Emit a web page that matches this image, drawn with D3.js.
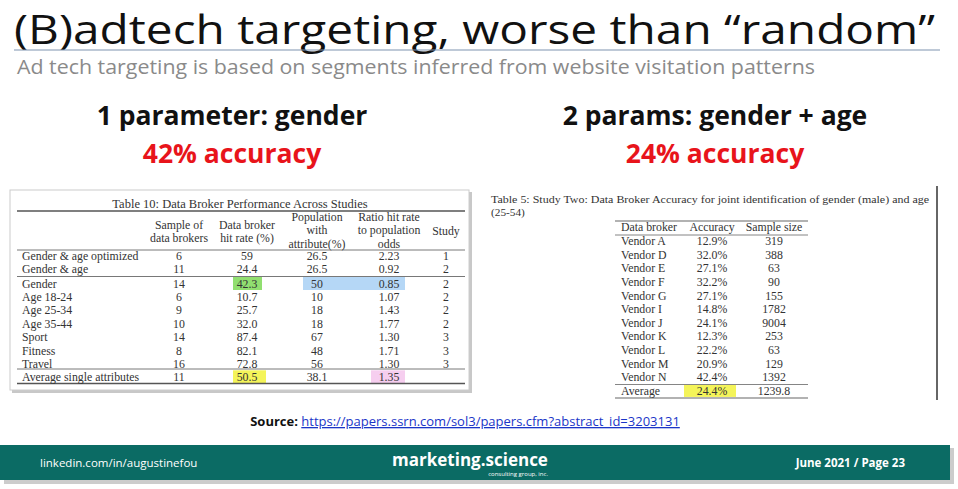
<!DOCTYPE html>
<html><head><meta charset="utf-8">
<script src="https://cdn.jsdelivr.net/npm/d3@7"></script>
<style>body{margin:0;background:#fff}svg{display:block}</style>
</head><body>
<svg id="c" width="958" height="489"></svg>
<script>
// ---- data ----
const t10Headers = [["Sample of","data brokers"],["Data broker","hit rate (%)"],["Population","with","attribute(%)"],["Ratio hit rate","to population","odds"],["Study"]];
const t10Labels = ["Gender & age optimized","Gender & age","Gender","Age 18-24","Age 25-34","Age 35-44","Sport","Fitness","Travel","Average single attributes"];
const t10Sample = ["6","11","14","6","9","10","14","8","16","11"];
const t10Hit = ["59","24.4","42.3","10.7","25.7","32.0","87.4","82.1","72.8","50.5"];
const t10Pop = ["26.5","26.5","50","10","18","18","67","48","56","38.1"];
const t10Ratio = ["2.23","0.92","0.85","1.07","1.43","1.77","1.30","1.71","1.30","1.35"];
const t10Study = ["1","2","2","2","2","2","3","3","3",""];
const t5Vendors = ["Vendor A","Vendor D","Vendor E","Vendor F","Vendor G","Vendor I","Vendor J","Vendor K","Vendor L","Vendor M","Vendor N","Average"];
const t5Accuracy = ["12.9%","32.0%","27.1%","32.2%","27.1%","14.8%","24.1%","12.3%","22.2%","20.9%","42.4%","24.4%"];
const t5Sample = ["319","388","63","90","155","1782","9004","253","63","129","1392","1239.8"];

const svg = d3.select("#c");
const sans = "Open Sans, Liberation Sans, sans-serif";
const serif = "Liberation Serif, DejaVu Serif, serif";

// title
svg.append("text").attr("x",14).attr("y",44).attr("font-family",sans).attr("font-size",41).attr("fill","#111")
  .attr("textLength",921).attr("lengthAdjust","spacingAndGlyphs")
  .text("(B)adtech targeting, worse than “random”");
svg.append("line").attr("x1",14).attr("x2",940).attr("y1",50).attr("y2",50).attr("stroke","#7f93b0").attr("stroke-width",1.2);
svg.append("text").attr("x",17).attr("y",74).attr("font-family",sans).attr("font-size",19.5).attr("fill","#8a8a8a")
  .attr("textLength",798).attr("lengthAdjust","spacingAndGlyphs")
  .text("Ad tech targeting is based on segments inferred from website visitation patterns");
[[232,"1 parameter: gender","42% accuracy"],[715,"2 params: gender + age","24% accuracy"]].forEach(([x,a,b])=>{
  svg.append("text").attr("x",x).attr("y",125).attr("text-anchor","middle").attr("font-family",sans).attr("font-weight","bold").attr("font-size",26.5).attr("fill","#111").text(a);
  svg.append("text").attr("x",x).attr("y",163).attr("text-anchor","middle").attr("font-family",sans).attr("font-weight","bold").attr("font-size",26.5).attr("fill","#e8141b").text(b);
});

// ---- Table 10 ----
const L = svg.append("g");
L.append("rect").attr("x",12).attr("y",192).attr("width",460).attr("height",201).attr("fill","#c8c8c8");
L.append("rect").attr("x",10).attr("y",190).attr("width",459).attr("height",200).attr("fill","#fff").attr("stroke","#ccc");
const colX = d3.scaleOrdinal().domain([0,1,2,3,4]).range([179,247,317,389,446]);
const rowY = d3.scaleBand().domain(d3.range(10)).range([249,383]).paddingInner(0);
const yOf = i => rowY(i) + rowY.bandwidth()/2 + (i>=2?1:0) + (i==9?-0.5:0);
// highlights
const hl = [[2,233,262,"#7ed957"],[2,303,405,"#a8d0f5"],[9,233,266,"#f2f23c"],[9,371,405,"#f5c6ec"]];
hl.forEach(([r,x1,x2,c])=>L.append("rect").attr("x",x1).attr("width",x2-x1).attr("y",yOf(r)-6.5).attr("height",13).attr("fill",c).attr("opacity",0.85));
L.append("text").attr("x",240).attr("y",208).attr("text-anchor","middle").attr("font-family",serif).attr("font-size",12.5).attr("fill","#333").text("Table 10: Data Broker Performance Across Studies");
[[211,1.3],[250,0.8],[276.5,0.8],[369,0.8],[383.5,1.3]].forEach(([y,w])=>L.append("line").attr("x1",17).attr("x2",465).attr("y1",y).attr("y2",y).attr("stroke","#555").attr("stroke-width",w));
t10Headers.forEach((h,i)=>{
  const n=h.length, y0 = n==1?235:(n==2?229:221);
  h.forEach((s,j)=>L.append("text").attr("x",colX(i)).attr("y",y0+j*13.3).attr("text-anchor","middle").attr("font-family",serif).attr("font-size",11.8).attr("fill","#333").text(s));
});
const cols=[t10Sample,t10Hit,t10Pop,t10Ratio,t10Study];
t10Labels.forEach((lab,i)=>{
  L.append("text").attr("x",22).attr("y",yOf(i)+4).attr("font-family",serif).attr("font-size",11.8).attr("fill","#333").text(lab);
  cols.forEach((c,k)=>L.append("text").attr("x",colX(k)).attr("y",yOf(i)+4).attr("text-anchor","middle").attr("font-family",serif).attr("font-size",11.8).attr("fill","#333").text(c[i]));
});

// ---- Table 5 ----
const R = svg.append("g");
R.append("rect").attr("x",936).attr("y",186).attr("width",2).attr("height",214).attr("fill","#666");
R.append("text").attr("x",491).attr("y",203).attr("font-family",serif).attr("font-size",11.3).attr("fill","#333")
  .attr("textLength",438).attr("lengthAdjust","spacingAndGlyphs")
  .text("Table 5: Study Two: Data Broker Accuracy for joint identification of gender (male) and age");
R.append("text").attr("x",491).attr("y",216).attr("font-family",serif).attr("font-size",11.3).attr("fill","#333").text("(25-54)");
const rY = d3.scaleBand().domain(d3.range(12)).range([234.5,397.5]);
const rX = d3.scaleOrdinal().domain([0,1,2]).range([621,712,774]);
R.append("rect").attr("x",684).attr("width",52).attr("y",rY(11)+1).attr("height",12).attr("fill","#f2f23c").attr("opacity",0.85);
[[221,1.2],[235,0.8],[384.5,0.8],[398,1.2]].forEach(([y,w])=>R.append("line").attr("x1",615).attr("x2",808).attr("y1",y).attr("y2",y).attr("stroke","#666").attr("stroke-width",w));
["Data broker","Accuracy","Sample size"].forEach((h,i)=>R.append("text").attr("x",i?rX(i):rX(0)).attr("y",231).attr("text-anchor",i?"middle":"start").attr("font-family",serif).attr("font-size",11.8).attr("fill","#333").text(h));
t5Vendors.forEach((v,i)=>{
  const y = rY(i)+rY.bandwidth()/2+4+(i==11?0.5:0);
  R.append("text").attr("x",rX(0)).attr("y",y).attr("font-family",serif).attr("font-size",11.8).attr("fill","#333").text(v);
  R.append("text").attr("x",rX(1)).attr("y",y).attr("text-anchor","middle").attr("font-family",serif).attr("font-size",11.8).attr("fill","#333").text(t5Accuracy[i]);
  R.append("text").attr("x",rX(2)).attr("y",y).attr("text-anchor","middle").attr("font-family",serif).attr("font-size",11.8).attr("fill","#333").text(t5Sample[i]);
});

// source
const src = svg.append("text").attr("x",465).attr("y",426).attr("text-anchor","middle").attr("font-family",sans).attr("font-size",13);
src.append("tspan").attr("font-weight","bold").attr("fill","#111").text("Source: ");
src.append("tspan").attr("fill","#1a35c8").attr("text-decoration","underline").text("https://papers.ssrn.com/sol3/papers.cfm?abstract_id=3203131");

// footer
svg.append("rect").attr("x",4).attr("y",448).attr("width",950).attr("height",36).attr("fill","#999").attr("opacity",0.5);
svg.append("rect").attr("x",0).attr("y",445).attr("width",950).attr("height",35).attr("fill","#0b6b64");
svg.append("text").attr("x",40).attr("y",467).attr("font-family",sans).attr("font-size",11.5).attr("fill","#fff").text("linkedin.com/in/augustinefou");
svg.append("text").attr("x",470).attr("y",466).attr("text-anchor","middle").attr("font-family",sans).attr("font-weight","bold").attr("font-size",17).attr("fill","#fff").text("marketing.science");
svg.append("text").attr("x",548).attr("y",476).attr("text-anchor","end").attr("font-family",sans).attr("font-size",6).attr("fill","#fff").text("consulting group, inc.");
svg.append("text").attr("x",905).attr("y",467).attr("text-anchor","end").attr("font-family",sans).attr("font-weight","bold").attr("font-size",11.5).attr("fill","#fff").text("June 2021 / Page 23");
</script>
</body></html>
